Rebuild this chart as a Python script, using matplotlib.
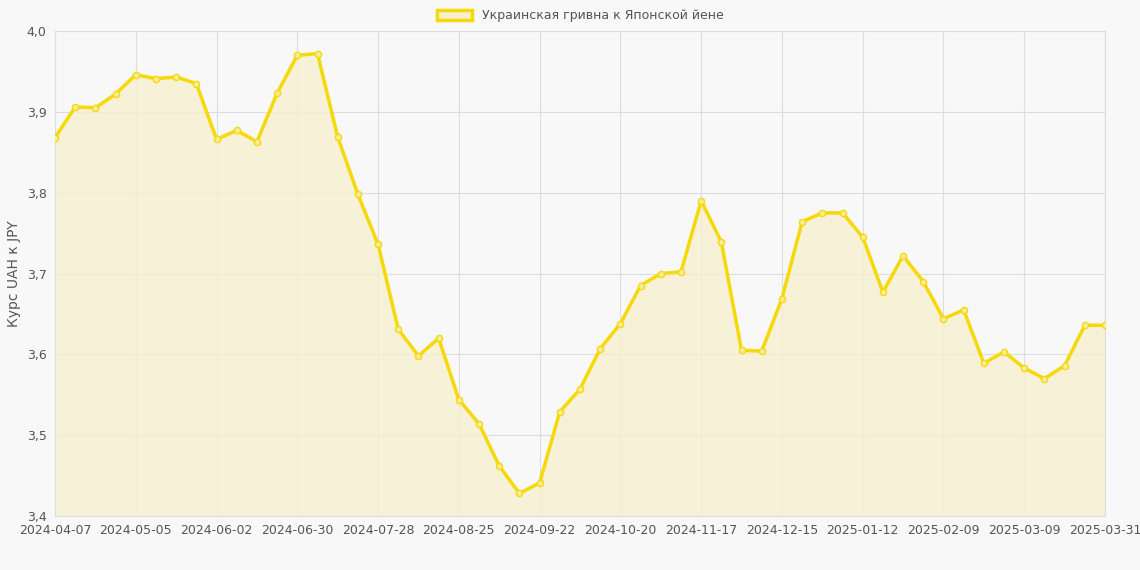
import matplotlib
matplotlib.use("Agg")
import matplotlib.pyplot as plt
from matplotlib.patches import Patch

values = [3.868,3.906,3.905,3.922,3.946,3.941,3.943,3.935,3.866,3.877,3.863,3.923,3.970,3.972,
          3.869,3.798,3.736,3.631,3.598,3.620,3.544,3.514,3.462,3.428,3.441,3.529,3.557,3.607,
          3.638,3.685,3.700,3.702,3.790,3.739,3.605,3.604,3.669,3.764,3.775,3.775,3.745,3.677,
          3.722,3.690,3.644,3.655,3.589,3.603,3.583,3.570,3.586,3.636,3.636]
tick_labels = ["2024-04-07","2024-05-05","2024-06-02","2024-06-30","2024-07-28","2024-08-25",
               "2024-09-22","2024-10-20","2024-11-17","2024-12-15","2025-01-12","2025-02-09",
               "2025-03-09","2025-03-31"]
yticks = [3.4,3.5,3.6,3.7,3.8,3.9,4.0]

x = list(range(len(values)))
tick_pos = list(range(0, 49, 4)) + [len(values)-1]

fig = plt.figure(figsize=(11.4,5.7), dpi=100, facecolor="#f8f8f8")
ax = fig.add_axes([55/1140, 1-516/570, 1050/1140, 485/570], facecolor="#f8f8f8")
col = "#f5d90a"
ax.fill_between(x, values, 3.4, color="#f7f0cf", alpha=0.8, zorder=1)
ax.plot(x, values, color=col, lw=2.5, marker="o", ms=4.5, mfc="#f7ec9a", mec=col, mew=1, zorder=3)
ax.set_xlim(0, len(values)-1)
ax.set_ylim(3.4, 4.0)
ax.set_xticks(tick_pos)
ax.set_xticklabels(tick_labels)
ax.set_yticks(yticks)
ax.set_yticklabels([f"{v:.1f}".replace(".", ",") for v in yticks])
ax.grid(True, color="#dddddd", lw=0.8)
ax.set_axisbelow(True)
for s in ax.spines.values():
    s.set_color("#dddddd")
ax.tick_params(colors="#666666", labelsize=9, length=0, pad=6)
for lbl in ax.get_xticklabels() + ax.get_yticklabels():
    lbl.set_color("#555555")
ax.set_ylabel("Курс UAH к JPY", color="#555555", fontsize=10)
ax.legend(handles=[Patch(facecolor="#f7f0cf", edgecolor=col, lw=2.5, label="Украинская гривна к Японской йене")],
          loc="lower center", bbox_to_anchor=(0.5, 1.0), frameon=False, fontsize=9,
          labelcolor="#555555", handlelength=2.8, handleheight=0.9, borderaxespad=0.3)
fig.savefig("out.png", dpi=100, facecolor=fig.get_facecolor())
